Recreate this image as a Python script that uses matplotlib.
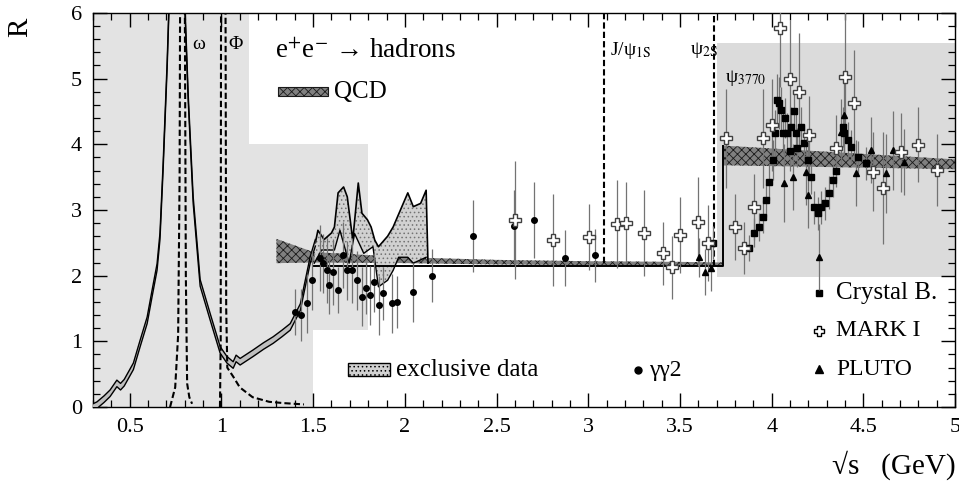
import matplotlib.pyplot as plt
import numpy as np
from matplotlib.patches import Rectangle, Polygon

plt.rcParams['font.family'] = ['Liberation Serif', 'DejaVu Serif']
plt.rcParams['mathtext.fontset'] = 'stix'
plt.rcParams['hatch.linewidth'] = 0.6

# shaded regions (systematic error areas)
shade_left_x = [0.30, 0.30, 1.15, 1.15, 1.80, 1.80, 1.50, 1.50]
shade_left_r = [0.00, 6.00, 6.00, 4.00, 4.00, 1.17, 1.17, 0.00]
shade_right_x = [3.70, 5.00, 5.00, 3.70]
shade_right_r = [1.98, 1.98, 5.54, 5.54]

# rho region inclusive curve
rho_x = [0.30, 0.322, 0.36, 0.393, 0.43, 0.45, 0.47, 0.52, 0.557, 0.595,
         0.622, 0.649, 0.665, 0.682, 0.704, 0.72, 0.79, 0.802, 0.819, 0.846,
         0.884, 0.939, 0.993, 1.03, 1.064, 1.08, 1.102, 1.173, 1.23, 1.282,
         1.33, 1.375, 1.43, 1.484, 1.512]
rho_r = [0.0, 0.03, 0.12, 0.21, 0.36, 0.31, 0.37, 0.62, 0.97, 1.32,
         1.73, 2.13, 2.6, 3.65, 5.2, 6.6, 6.6, 6.0, 4.7, 3.15,
         1.89, 1.37, 0.87, 0.72, 0.64, 0.74, 0.69, 0.82, 0.93, 1.02,
         1.12, 1.22, 1.52, 2.24, 2.5]
rho_band = 0.05

# exclusive data band
excl_up_x = [1.512, 1.526, 1.56, 1.60, 1.616, 1.636, 1.666, 1.686, 1.716, 1.746,
             1.766, 1.796, 1.816, 1.836, 1.856, 1.906, 1.936, 1.976, 2.016, 2.046,
             2.086, 2.116, 2.126]
excl_up_r = [2.5, 2.69, 2.55, 2.65, 2.74, 3.26, 3.35, 3.2, 2.54, 3.41,
             2.95, 2.85, 2.74, 2.54, 2.44, 2.6, 2.74, 3.0, 3.26, 3.05,
             3.1, 3.3, 2.19]
excl_lo_x = [1.506, 1.546, 1.616, 1.646, 1.696, 1.726, 1.776, 1.826, 1.856, 1.906,
             1.936, 1.966, 2.016, 2.046, 2.116]
excl_lo_r = [2.19, 2.39, 2.39, 2.69, 2.19, 2.64, 2.34, 2.44, 1.83, 1.93,
             2.08, 2.28, 2.28, 2.19, 2.28]

# narrow resonances (dashed)
omega_x = [0.72, 0.748, 0.764, 0.772, 0.775, 0.800, 0.806, 0.813, 0.825, 0.84]
omega_r = [0.0, 0.3, 1.1, 3.5, 6.5, 6.5, 2.0, 0.36, 0.15, 0.05]
phi_x = [0.992, 0.996, 0.998, 1.022, 1.026, 1.032, 1.065, 1.10, 1.17, 1.26, 1.34, 1.45]
phi_r = [0.0, 1.0, 6.5, 6.5, 1.5, 0.6, 0.46, 0.30, 0.15, 0.08, 0.06, 0.04]
jpsi_x = [3.088, 3.088]
jpsi_r = [2.20, 6.0]
psi2s_x = [3.686, 3.686]
psi2s_r = [2.15, 6.0]

# QCD prediction bands
qcd1_x = [1.30, 1.50, 2.00, 2.50, 3.00, 3.50, 3.735]
qcd1_lo = [2.19, 2.20, 2.19, 2.17, 2.16, 2.15, 2.14]
qcd1_hi = [2.56, 2.36, 2.28, 2.24, 2.22, 2.21, 2.20]
qcd2_x = [3.735, 5.00]
qcd2_lo = [3.68, 3.62]
qcd2_hi = [3.98, 3.77]
qcd_step_x = [1.50, 3.735, 3.735]
qcd_step_r = [2.15, 2.15, 3.98]

# gamma gamma 2
gg_x = [1.403, 1.435, 1.468, 1.495, 1.539, 1.555, 1.577, 1.588, 1.610, 1.637,
        1.665, 1.686, 1.714, 1.741, 1.768, 1.790, 1.812, 1.834, 1.861, 1.883,
        1.932, 1.959, 2.047, 2.150, 2.369, 2.593, 2.702, 2.871, 3.035]
gg_r = [1.45, 1.40, 1.58, 1.93, 2.27, 2.19, 2.08, 1.86, 2.06, 1.78,
        2.31, 2.08, 2.08, 1.93, 1.68, 1.81, 1.70, 1.90, 1.55, 1.73,
        1.58, 1.60, 1.75, 2.00, 2.60, 2.75, 2.85, 2.27, 2.31]
gg_err = [0.35, 0.40, 0.45, 0.45, 0.50, 0.45, 0.50, 0.45, 0.50, 0.35,
          0.50, 0.45, 0.50, 0.45, 0.45, 0.40, 0.45, 0.45, 0.45, 0.40,
          0.45, 0.40, 0.45, 0.40, 0.55, 0.55, 0.58, 0.43, 0.40]

# MARK I
mk_x = [2.598, 2.805, 3.002, 3.155, 3.204, 3.302, 3.406, 3.455, 3.499, 3.597,
        3.652, 3.750, 3.799, 3.848, 3.903, 3.952, 4.001, 4.045, 4.099, 4.148,
        4.203, 4.350, 4.399, 4.448, 4.552, 4.607, 4.705, 4.798, 4.902]
mk_r = [2.85, 2.54, 2.59, 2.78, 2.80, 2.65, 2.34, 2.13, 2.62, 2.82,
        2.50, 4.09, 2.74, 2.42, 3.04, 4.09, 4.29, 5.77, 4.99, 4.80,
        4.14, 3.94, 5.02, 4.63, 3.58, 3.33, 3.88, 3.99, 3.61]
mk_err = [0.90, 0.70, 0.50, 0.67, 0.62, 0.65, 0.48, 0.48, 0.58, 0.68,
          0.58, 0.75, 0.50, 0.40, 0.50, 0.75, 0.70, 0.90, 0.90, 0.90,
          0.60, 0.50, 1.00, 0.80, 0.60, 0.85, 0.60, 0.57, 0.55]

# PLUTO
pl_x = [3.602, 3.635, 3.668, 4.066, 4.115, 4.186, 4.197, 4.257, 4.378, 4.394,
        4.459, 4.541, 4.623, 4.661, 4.721]
pl_r = [2.28, 2.06, 2.12, 3.41, 3.50, 3.58, 3.23, 2.28, 4.19, 4.44,
        3.56, 3.91, 3.56, 3.91, 3.73]
pl_err = [0.30, 0.35, 0.35, 0.60, 0.50, 0.50, 0.50, 0.50, 0.50, 0.60,
          0.50, 0.50, 0.60, 0.60, 0.50]

# Crystal Ball
cb_x = [3.680, 3.875, 3.903, 3.930, 3.952, 3.968, 3.984, 4.006, 4.017, 4.028,
        4.039, 4.050, 4.061, 4.070, 4.083, 4.100, 4.105, 4.120, 4.132, 4.140,
        4.159, 4.176, 4.197, 4.214, 4.230, 4.252, 4.268, 4.290, 4.312, 4.334,
        4.350, 4.388, 4.394, 4.416, 4.432, 4.470, 4.514]
cb_r = [2.50, 2.42, 2.65, 2.74, 2.90, 3.15, 3.43, 3.76, 4.17, 4.67,
        4.63, 4.52, 4.17, 4.40, 4.17, 3.90, 4.26, 4.50, 4.17, 3.95,
        4.26, 4.02, 3.76, 3.50, 3.04, 2.95, 3.04, 3.10, 3.26, 3.45,
        3.60, 4.26, 4.17, 4.06, 3.96, 3.80, 3.71]
cb_err = [0.25, 0.20, 0.22, 0.22, 0.25, 0.25, 0.28, 0.30, 0.35, 0.40,
          0.40, 0.35, 0.30, 0.30, 0.30, 0.30, 0.30, 0.30, 0.30, 0.30,
          0.30, 0.28, 0.28, 0.25, 0.25, 0.25, 0.25, 0.25, 0.25, 0.25,
          0.25, 0.30, 0.30, 0.28, 0.25, 0.25, 0.25]

x_ticks = [0.5, 1, 1.5, 2, 2.5, 3, 3.5, 4, 4.5, 5]
x_labels = ['0.5', '1', '1.5', '2', '2.5', '3', '3.5', '4', '4.5', '5']

fig = plt.figure(figsize=(9.59, 4.94), dpi=100)
ax = fig.add_axes([0.097, 0.176, 0.899, 0.798])

# shading
ax.add_patch(Polygon(np.column_stack([shade_left_x, shade_left_r]), closed=True,
                     facecolor='0.89', edgecolor='none', zorder=0))
ax.add_patch(Polygon(np.column_stack([shade_right_x, shade_right_r]), closed=True,
                     facecolor='0.86', edgecolor='none', zorder=0))

# QCD bands
ax.fill_between(qcd1_x, qcd1_lo, qcd1_hi, facecolor='0.5', hatch='xxxx',
                edgecolor='0.1', linewidth=0, zorder=2)
ax.fill_between(qcd2_x, qcd2_lo, qcd2_hi, facecolor='0.5', hatch='xxxx',
                edgecolor='0.1', linewidth=0, zorder=2)
ax.plot(qcd_step_x, qcd_step_r, color='black', lw=1.4, zorder=3)

# exclusive data band
ex_poly = np.column_stack([excl_up_x + excl_lo_x[::-1], excl_up_r + excl_lo_r[::-1]])
ax.add_patch(Polygon(ex_poly, closed=True, facecolor='0.82', hatch='....',
                     edgecolor='0.45', linewidth=0, zorder=2))
ax.plot(excl_up_x, excl_up_r, color='black', lw=1.2, zorder=3)
ax.plot(excl_lo_x, excl_lo_r, color='black', lw=1.0, zorder=3)

# rho region band
rho_x_a = np.array(rho_x)
rho_r_a = np.array(rho_r)
ax.fill_between(rho_x_a, rho_r_a - rho_band, rho_r_a + rho_band,
                facecolor='0.75', edgecolor='none', zorder=3)
ax.plot(rho_x_a, rho_r_a - rho_band, color='black', lw=1.0, zorder=4)
ax.plot(rho_x_a, rho_r_a + rho_band, color='black', lw=1.0, zorder=4)

# narrow resonances
for rx, rr in [(omega_x, omega_r), (phi_x, phi_r), (jpsi_x, jpsi_r), (psi2s_x, psi2s_r)]:
    ax.plot(rx, rr, color='black', lw=1.5, ls=(0, (3, 1.5)), zorder=4)

# data points
ebar = dict(ecolor='0.45', elinewidth=0.9, capsize=0, ls='none', zorder=5)
ax.errorbar(gg_x, gg_r, yerr=gg_err, fmt='o', ms=4, color='black', **ebar)
ax.errorbar(cb_x, cb_r, yerr=cb_err, fmt='s', ms=4, color='black', **ebar)
ax.errorbar(pl_x, pl_r, yerr=pl_err, fmt='^', ms=5, color='black', **ebar)
ax.errorbar(mk_x, mk_r, yerr=mk_err, fmt='P', ms=9, mfc='white', mec='0.25',
            mew=1.0, **ebar)

# axes
ax.set_xlim(0.3, 5.0)
ax.set_ylim(0, 6)
ax.set_xticks(x_ticks)
ax.set_xticklabels(x_labels)
ax.set_xticks(np.arange(0.3, 5.01, 0.1), minor=True)
ax.set_yticks(range(7))
ax.set_yticks(np.arange(0, 6.01, 0.2), minor=True)
ax.tick_params(which='both', direction='in', top=True, right=True, labelsize=16)
ax.tick_params(which='major', length=10, width=1.0, pad=8)
ax.tick_params(which='minor', length=5, width=0.9)
for s in ax.spines.values():
    s.set_linewidth(1.0)

# labels inside plot
tr = ax.transAxes
ax.text(0.115, 0.919, 'ω', transform=tr, fontsize=14, va='center')
ax.text(0.157, 0.919, 'Φ', transform=tr, fontsize=14, va='center')
ax.text(0.211, 0.903, 'e$^{+}$e$^{-}$ → hadrons', transform=tr, fontsize=19.5, va='center')
ax.add_patch(Rectangle((0.214, 0.789), 0.058, 0.023, transform=tr, facecolor='0.5',
                       hatch='xxxx', edgecolor='0.1', lw=0.8, zorder=6))
ax.text(0.279, 0.80, 'QCD', transform=tr, fontsize=18, va='center')
ax.text(0.600, 0.905, 'J/ψ$_{\\mathrm{1S}}$', transform=tr, fontsize=14, va='center')
ax.text(0.693, 0.905, 'ψ$_{\\mathrm{2S}}$', transform=tr, fontsize=14, va='center')
ax.text(0.733, 0.835, 'ψ$_{\\mathrm{3770}}$', transform=tr, fontsize=14, va='center')

ax.add_patch(Rectangle((0.296, 0.078), 0.049, 0.034, transform=tr, facecolor='0.82',
                       hatch='....', edgecolor='black', lw=1.0, zorder=6))
ax.text(0.352, 0.094, 'exclusive data', transform=tr, fontsize=18, va='center')
ax.plot([0.632], [0.094], 'o', ms=5, color='black', transform=tr)
ax.text(0.645, 0.094, 'γγ2', transform=tr, fontsize=17, va='center')

ax.plot([0.842], [0.289], 's', ms=5, color='black', transform=tr)
ax.text(0.862, 0.289, 'Crystal B.', transform=tr, fontsize=18, va='center')
ax.plot([0.842], [0.193], 'P', ms=7, mfc='white', mec='black', transform=tr)
ax.text(0.862, 0.193, 'MARK I', transform=tr, fontsize=17, va='center')
ax.plot([0.842], [0.096], '^', ms=6, color='black', transform=tr)
ax.text(0.862, 0.096, 'PLUTO', transform=tr, fontsize=17, va='center')

fig.text(0.021, 0.965, 'R', rotation=90, fontsize=21, ha='center', va='top')
fig.text(0.997, 0.059, '√s   (GeV)', fontsize=21, ha='right', va='center')

fig.savefig('out.png', dpi=100)
